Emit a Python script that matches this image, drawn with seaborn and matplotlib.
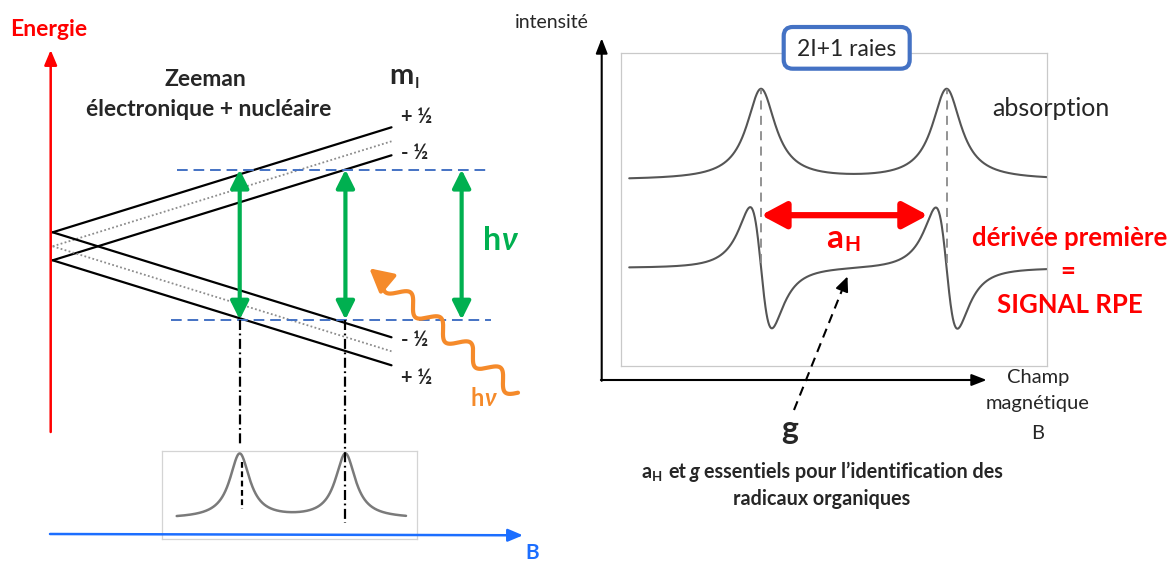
import numpy as np
import matplotlib
matplotlib.use("Agg")
import matplotlib.pyplot as plt
import seaborn as sns
from matplotlib.patches import FancyBboxPatch

# =========================================================
# STYLE
# =========================================================

sns.set_style("white")
plt.rcParams["font.family"] = ["Lato", "DejaVu Sans"]

RED = "#FF0000"
GREEN = "#00B050"
ORANGE = "#F58A2A"
DASH_BLUE = "#4472C4"
AXIS_BLUE = "#1C6EFF"
CURVE_GREY = "#555555"

# =========================================================
# DATA
# =========================================================

# Zeeman (electron) + hyperfine (nucleus) levels, energy in units of a
ms_values = [0.5, -0.5]
mi_values = [0.5, -0.5]
zeeman_slope = 3.75
hyperfine_a = 1.0
level_fields = [0.0, 1.0]

# photon energy levels and resonance fields
hnu_upper = 1.37
hnu_lower = -1.31
resonance_fields = [0.552, 0.864]
hnu_ref_field = 1.207

# small absorption sketch under the level diagram
inset_hwhm = 0.036
inset_base = 0.23
inset_height = 0.73

# EPR spectrum (field as fraction of the window)
rpe_centres = [0.329, 0.764]
abs_hwhm = 0.041
abs_base = 0.594
abs_height = 0.29
der_hwhm = 0.044
der_base = 0.313
der_height = 0.194

mi_labels_top = ["+ ½", "- ½"]
mi_labels_bottom = ["- ½", "+ ½"]

# =========================================================
# FIGURE / LAYOUT (pixel based)
# =========================================================

W, H = 1174, 564
fig = plt.figure(figsize=(W / 100, H / 100), dpi=100)


def px_axes(x0, x1, y0, y1):
    return fig.add_axes([x0 / W, 1 - y1 / H, (x1 - x0) / W, (y1 - y0) / H])


def lorentz(x, c, w):
    return 1.0 / (1.0 + ((x - c) / w) ** 2)


def lorentz_deriv(x, c, w):
    u = (x - c) / w
    return -2 * u / (1 + u ** 2) ** 2 / 0.6495


# =========================================================
# RIGHT: EPR SPECTRUM
# =========================================================

axR = px_axes(620.7, 1047.3, 53.3, 365.7)
field = np.linspace(0.02, 1.0, 900)

absorb = abs_base + abs_height * sum(lorentz(field, c, abs_hwhm) for c in rpe_centres)
deriv = der_base + der_height * sum(lorentz_deriv(field, c, der_hwhm) for c in rpe_centres)

sns.lineplot(x=field, y=absorb, ax=axR, color=CURVE_GREY, linewidth=1.5)
sns.lineplot(x=field, y=deriv, ax=axR, color=CURVE_GREY, linewidth=1.5)

peak_tops = abs_base + abs_height * np.array(
    [sum(lorentz(c0, c, abs_hwhm) for c in rpe_centres) for c0 in rpe_centres]
)
for c0, top in zip(rpe_centres, peak_tops):
    axR.plot([c0, c0], [der_base + 0.015, top], color="#8a8a8a", lw=1.3,
             dashes=(5, 3.5))

arrow_y = der_base + der_height * 0.87
axR.annotate("", xy=(rpe_centres[0], arrow_y),
             xytext=(rpe_centres[1] - der_hwhm, arrow_y),
             arrowprops=dict(arrowstyle="<|-|>,head_length=1.5,head_width=0.8",
                             color=RED, lw=4.5, shrinkA=0, shrinkB=0))

axR.set_xlim(0, 1)
axR.set_ylim(0, 1)
axR.set(xticks=[], yticks=[], xlabel="", ylabel="")
for sp in axR.spines.values():
    sp.set_color("#c9c9c9")
    sp.set_linewidth(0.9)

# =========================================================
# LEFT: SMALL ABSORPTION SKETCH
# =========================================================

B0_PX, B_SCALE = 52.7, 338.8
E0_PY, E_SCALE = 246.3, 56.0

axL = px_axes(162.3, 417.3, 450.7, 539)
b_inset = np.linspace((176.7 - B0_PX) / B_SCALE, (406 - B0_PX) / B_SCALE, 600)
inset_curve = inset_base + inset_height * sum(
    lorentz(b_inset, c, inset_hwhm) for c in resonance_fields)
sns.lineplot(x=b_inset, y=inset_curve, ax=axL, color="#7a7a7a", linewidth=1.8)
axL.set_xlim((162.3 - B0_PX) / B_SCALE, (417.3 - B0_PX) / B_SCALE)
axL.set_ylim(0, 1)
axL.set(xticks=[], yticks=[], xlabel="", ylabel="")
for sp in axL.spines.values():
    sp.set_color("#d4d4d4")
    sp.set_linewidth(0.9)

# =========================================================
# LEFT: ENERGY LEVEL DIAGRAM
# =========================================================

axE = px_axes(40, 530, 40, 545)
axE.set_xlim((40 - B0_PX) / B_SCALE, (530 - B0_PX) / B_SCALE)
axE.set_ylim((E0_PY - 545) / E_SCALE, (E0_PY - 40) / E_SCALE)
axE.axis("off")

b_line = np.array(level_fields)
for ms in ms_values:
    for mi in mi_values:
        energy = ms * zeeman_slope * b_line + ms * mi * hyperfine_a
        sns.lineplot(x=b_line, y=energy, ax=axE, color="black", linewidth=1.6)
    axE.plot(b_line, ms * zeeman_slope * b_line, color="#8c8c8c", lw=1.3,
             linestyle=(0, (1, 1.3)))

# h nu levels
axE.plot([(176.7 - B0_PX) / B_SCALE, (490 - B0_PX) / B_SCALE], [hnu_upper] * 2,
         color=DASH_BLUE, lw=1.4, dashes=(5.5, 3))
axE.plot([(170.7 - B0_PX) / B_SCALE, (491 - B0_PX) / B_SCALE], [hnu_lower] * 2,
         color=DASH_BLUE, lw=1.4, dashes=(5.5, 3))

for b in resonance_fields + [hnu_ref_field]:
    axE.annotate("", xy=(b, hnu_upper), xytext=(b, hnu_lower),
                 arrowprops=dict(arrowstyle="<|-|>,head_length=1.1,head_width=0.55",
                                 color=GREEN, lw=3, shrinkA=0, shrinkB=0))

# projections onto the spectrum
drop_ends = [(E0_PY - 445) / E_SCALE, (E0_PY - 523) / E_SCALE]
for b, e_end in zip(resonance_fields, drop_ends):
    axE.plot([b, b], [hnu_lower, e_end], color="black", lw=1.6,
             dashes=(4.5, 1.6, 0.8, 1.6))
axE.plot([resonance_fields[0] + 0.006] * 2,
         [(E0_PY - 462) / E_SCALE, (E0_PY - 509) / E_SCALE],
         color="black", lw=1.6, dashes=(2.6, 1.6))

# =========================================================
# OVERLAY: AXES ARROWS, WAVE AND TEXT
# =========================================================

ax0 = fig.add_axes([0, 0, 1, 1])
ax0.set_xlim(0, W)
ax0.set_ylim(H, 0)
ax0.axis("off")


def arrow(ax, start, end, color, lw, hl, hw, style="-|>"):
    ax.annotate("", xy=end, xytext=start,
                arrowprops=dict(arrowstyle=f"{style},head_length={hl},head_width={hw}",
                                color=color, lw=lw, shrinkA=0, shrinkB=0))


# energy / field axes of the level diagram
arrow(ax0, (50.7, 432), (50.7, 50), RED, 1.8, 0.9, 0.38)
arrow(ax0, (50, 534), (523, 535.3), AXIS_BLUE, 1.8, 0.9, 0.38)

# axes of the spectrum
arrow(ax0, (601.7, 380.8), (601.7, 38.3), "black", 1.5, 0.9, 0.35)
arrow(ax0, (600.9, 380), (986.7, 380), "black", 1.5, 0.9, 0.35)

# incoming photon (wavy arrow)
tail = np.array([518.0, 392.7])
tip = np.array([369.3, 268.3])
d = tip - tail
length = np.hypot(*d)
d = d / length
nrm = np.array([-d[1], d[0]])
s = np.linspace(0, 1, 400)
wave = tail + np.outer(s, d * (length - 18)) + np.outer(-8 * np.sin(2 * np.pi * 4.5 * s), nrm)
ax0.plot(wave[:, 0], wave[:, 1], color=ORANGE, lw=3, solid_capstyle="round")
arrow(ax0, wave[-1] - d * 2, tip, ORANGE, 3, 1.4, 0.75)

# g pointer
g_tail = np.array([794.0, 410.0])
g_tip = np.array([847.5, 276.5])
gd = (g_tip - g_tail) / np.hypot(*(g_tip - g_tail))
ax0.plot([g_tail[0], g_tip[0] - gd[0] * 10], [g_tail[1], g_tip[1] - gd[1] * 10],
         color="black", lw=1.5, dashes=(4.5, 3))
arrow(ax0, g_tip - gd * 12, g_tip, "black", 1.3, 0.9, 0.4)

# "2I+1 raies" box
ax0.add_patch(FancyBboxPatch((783.7, 27.0), 126.0, 41.7,
                             boxstyle="round,pad=0,rounding_size=9",
                             facecolor="white", edgecolor=DASH_BLUE, lw=3.0))


def rich(x, y, pieces, ha="left"):
    renderer = fig.canvas.get_renderer()
    texts, widths = [], []
    for p in pieces:
        p = dict(p)
        gap = p.pop("gap", 0)
        dy = p.pop("dy", 0)
        s_ = p.pop("s")
        t = ax0.text(0, y + dy, s_, ha="left", va="center", **p)
        texts.append((t, gap))
        widths.append(t.get_window_extent(renderer).width + gap)
    cur = x - sum(widths) / 2 if ha == "center" else x
    for (t, gap), w in zip(texts, widths):
        t.set_x(cur + gap)
        cur += w


ax0.text(10, 29, "Energie", color=RED, fontsize=16.5, fontweight="bold",
         ha="left", va="center")
ax0.text(205, 80, "Zeeman", fontsize=16.5, fontweight="bold", ha="center", va="center")
ax0.text(208.5, 110, "électronique + nucléaire", fontsize=16.5, fontweight="bold",
         ha="center", va="center")
rich(389, 76, [dict(s="m", fontsize=21, fontweight="bold"),
               dict(s="I", fontsize=11, fontweight="bold", dy=8, gap=1)])
for lab, yy in zip(mi_labels_top, [117, 153]):
    ax0.text(401, yy, lab, fontsize=14.5, fontweight="bold", ha="left", va="center")
for lab, yy in zip(mi_labels_bottom, [340, 377.5]):
    ax0.text(401, yy, lab, fontsize=14.5, fontweight="bold", ha="left", va="center")

rich(500, 240, [dict(s="h", fontsize=23, fontweight="bold", color=GREEN),
                dict(s="ν", fontsize=23, fontweight="bold", style="italic",
                     color=GREEN)], ha="center")
rich(483, 398, [dict(s="h", fontsize=17, fontweight="bold", color=ORANGE),
                dict(s="ν", fontsize=17, fontweight="bold", style="italic",
                     color=ORANGE)], ha="center")
ax0.text(525, 553, "B", color=AXIS_BLUE, fontsize=15, fontweight="bold",
         ha="left", va="center")

ax0.text(552, 22, "intensité", fontsize=14, ha="center", va="center")
ax0.text(846.7, 49, "2I+1 raies", fontsize=16.5, ha="center", va="center")
ax0.text(992, 108, "absorption", fontsize=18, ha="left", va="center")
rich(843, 238, [dict(s="a", fontsize=24, fontweight="bold", color=RED),
                dict(s="H", fontsize=15, fontweight="bold", color=RED, dy=7, gap=1)],
     ha="center")
ax0.text(1070, 238, "dérivée première", color=RED, fontsize=18.5, fontweight="bold",
         ha="center", va="center")
ax0.text(1068, 271, "=", color=RED, fontsize=18.5, fontweight="bold",
         ha="center", va="center")
ax0.text(1070, 305, "SIGNAL RPE", color=RED, fontsize=18.5, fontweight="bold",
         ha="center", va="center")

for txt, yy in zip(["Champ", "magnétique", "B"], [377, 403.5, 433.5]):
    ax0.text(1038, yy, txt, fontsize=14.5, ha="center", va="center")

ax0.text(789.5, 430, "g", fontsize=23, fontweight="bold", ha="center", va="center")
rich(822, 472, [dict(s="a", fontsize=14.2, fontweight="bold"),
                dict(s="H", fontsize=9.5, fontweight="bold", dy=5, gap=0.5),
                dict(s="et", fontsize=14.2, fontweight="bold", gap=6),
                dict(s="g", fontsize=14.2, fontweight="bold", style="italic", gap=4),
                dict(s="essentiels pour l’identification des", fontsize=14.2,
                     fontweight="bold", gap=4)], ha="center")
ax0.text(822, 499, "radicaux organiques", fontsize=14.2, fontweight="bold",
         ha="center", va="center")

fig.savefig("out.png", dpi=100)
